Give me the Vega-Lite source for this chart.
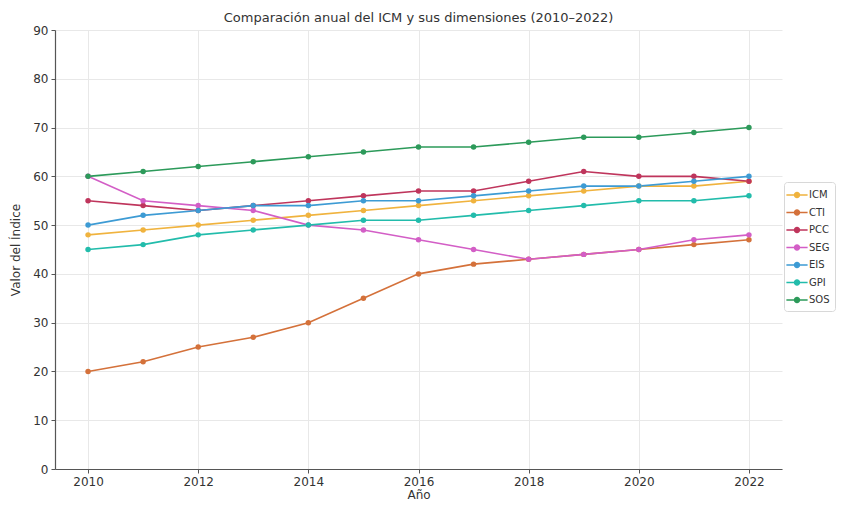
{
  "$schema": "https://vega.github.io/schema/vega-lite/v6.json",
  "width": 727,
  "height": 439,
  "autosize": {"type": "none"},
  "padding": {"left": 55, "top": 30, "right": 72, "bottom": 37},
  "background": "white",
  "title": {
    "text": "Comparación anual del ICM y sus dimensiones (2010–2022)",
    "font": "DejaVu Sans",
    "fontSize": 13,
    "fontWeight": "normal",
    "color": "#333333",
    "anchor": "middle",
    "offset": -1
  },
  "config": {
    "view": {"stroke": null},
    "axis": {
      "labelFont": "DejaVu Sans",
      "titleFont": "DejaVu Sans",
      "labelFontSize": 12,
      "titleFontSize": 12,
      "labelColor": "#333333",
      "titleColor": "#333333",
      "titleFontWeight": "normal",
      "gridColor": "#e8e8e8",
      "gridWidth": 1,
      "domainColor": "#555555",
      "domainWidth": 1.2,
      "tickColor": "#555555",
      "tickSize": 4
    }
  },
  "data": {
    "values": [
      {"year": 2010, "series": "ICM", "value": 48}, {"year": 2011, "series": "ICM", "value": 49}, {"year": 2012, "series": "ICM", "value": 50}, {"year": 2013, "series": "ICM", "value": 51}, {"year": 2014, "series": "ICM", "value": 52}, {"year": 2015, "series": "ICM", "value": 53}, {"year": 2016, "series": "ICM", "value": 54}, {"year": 2017, "series": "ICM", "value": 55}, {"year": 2018, "series": "ICM", "value": 56}, {"year": 2019, "series": "ICM", "value": 57}, {"year": 2020, "series": "ICM", "value": 58}, {"year": 2021, "series": "ICM", "value": 58}, {"year": 2022, "series": "ICM", "value": 59},
      {"year": 2010, "series": "CTI", "value": 20}, {"year": 2011, "series": "CTI", "value": 22}, {"year": 2012, "series": "CTI", "value": 25}, {"year": 2013, "series": "CTI", "value": 27}, {"year": 2014, "series": "CTI", "value": 30}, {"year": 2015, "series": "CTI", "value": 35}, {"year": 2016, "series": "CTI", "value": 40}, {"year": 2017, "series": "CTI", "value": 42}, {"year": 2018, "series": "CTI", "value": 43}, {"year": 2019, "series": "CTI", "value": 44}, {"year": 2020, "series": "CTI", "value": 45}, {"year": 2021, "series": "CTI", "value": 46}, {"year": 2022, "series": "CTI", "value": 47},
      {"year": 2010, "series": "PCC", "value": 55}, {"year": 2011, "series": "PCC", "value": 54}, {"year": 2012, "series": "PCC", "value": 53}, {"year": 2013, "series": "PCC", "value": 54}, {"year": 2014, "series": "PCC", "value": 55}, {"year": 2015, "series": "PCC", "value": 56}, {"year": 2016, "series": "PCC", "value": 57}, {"year": 2017, "series": "PCC", "value": 57}, {"year": 2018, "series": "PCC", "value": 59}, {"year": 2019, "series": "PCC", "value": 61}, {"year": 2020, "series": "PCC", "value": 60}, {"year": 2021, "series": "PCC", "value": 60}, {"year": 2022, "series": "PCC", "value": 59},
      {"year": 2010, "series": "SEG", "value": 60}, {"year": 2011, "series": "SEG", "value": 55}, {"year": 2012, "series": "SEG", "value": 54}, {"year": 2013, "series": "SEG", "value": 53}, {"year": 2014, "series": "SEG", "value": 50}, {"year": 2015, "series": "SEG", "value": 49}, {"year": 2016, "series": "SEG", "value": 47}, {"year": 2017, "series": "SEG", "value": 45}, {"year": 2018, "series": "SEG", "value": 43}, {"year": 2019, "series": "SEG", "value": 44}, {"year": 2020, "series": "SEG", "value": 45}, {"year": 2021, "series": "SEG", "value": 47}, {"year": 2022, "series": "SEG", "value": 48},
      {"year": 2010, "series": "EIS", "value": 50}, {"year": 2011, "series": "EIS", "value": 52}, {"year": 2012, "series": "EIS", "value": 53}, {"year": 2013, "series": "EIS", "value": 54}, {"year": 2014, "series": "EIS", "value": 54}, {"year": 2015, "series": "EIS", "value": 55}, {"year": 2016, "series": "EIS", "value": 55}, {"year": 2017, "series": "EIS", "value": 56}, {"year": 2018, "series": "EIS", "value": 57}, {"year": 2019, "series": "EIS", "value": 58}, {"year": 2020, "series": "EIS", "value": 58}, {"year": 2021, "series": "EIS", "value": 59}, {"year": 2022, "series": "EIS", "value": 60},
      {"year": 2010, "series": "GPI", "value": 45}, {"year": 2011, "series": "GPI", "value": 46}, {"year": 2012, "series": "GPI", "value": 48}, {"year": 2013, "series": "GPI", "value": 49}, {"year": 2014, "series": "GPI", "value": 50}, {"year": 2015, "series": "GPI", "value": 51}, {"year": 2016, "series": "GPI", "value": 51}, {"year": 2017, "series": "GPI", "value": 52}, {"year": 2018, "series": "GPI", "value": 53}, {"year": 2019, "series": "GPI", "value": 54}, {"year": 2020, "series": "GPI", "value": 55}, {"year": 2021, "series": "GPI", "value": 55}, {"year": 2022, "series": "GPI", "value": 56},
      {"year": 2010, "series": "SOS", "value": 60}, {"year": 2011, "series": "SOS", "value": 61}, {"year": 2012, "series": "SOS", "value": 62}, {"year": 2013, "series": "SOS", "value": 63}, {"year": 2014, "series": "SOS", "value": 64}, {"year": 2015, "series": "SOS", "value": 65}, {"year": 2016, "series": "SOS", "value": 66}, {"year": 2017, "series": "SOS", "value": 66}, {"year": 2018, "series": "SOS", "value": 67}, {"year": 2019, "series": "SOS", "value": 68}, {"year": 2020, "series": "SOS", "value": 68}, {"year": 2021, "series": "SOS", "value": 69}, {"year": 2022, "series": "SOS", "value": 70}
    ]
  },
  "mark": {"type": "line", "strokeWidth": 1.6, "point": {"filled": true, "size": 30}},
  "encoding": {
    "x": {
      "field": "year",
      "type": "quantitative",
      "title": "Año",
      "scale": {"domain": [2009.4, 2022.6], "nice": false, "zero": false},
      "axis": {"values": [2010, 2012, 2014, 2016, 2018, 2020, 2022], "format": "d", "titlePadding": 2, "labelPadding": 3}
    },
    "y": {
      "field": "value",
      "type": "quantitative",
      "title": "Valor del Índice",
      "scale": {"domain": [0, 90], "nice": false},
      "axis": {"values": [0, 10, 20, 30, 40, 50, 60, 70, 80, 90], "titlePadding": 10, "labelPadding": 3}
    },
    "color": {
      "field": "series",
      "type": "nominal",
      "sort": ["ICM", "CTI", "PCC", "SEG", "EIS", "GPI", "SOS"],
      "scale": {
        "domain": ["ICM", "CTI", "PCC", "SEG", "EIS", "GPI", "SOS"],
        "range": ["#f0b33e", "#d4713a", "#bf355c", "#d35ec6", "#3d9bd4", "#22bcab", "#2c9a5a"]
      },
      "legend": {
        "title": null,
        "orient": "none",
        "legendX": 729,
        "legendY": 152,
        "padding": 5,
        "strokeColor": "#d8d8d8",
        "cornerRadius": 3,
        "fillColor": "white",
        "labelFont": "DejaVu Sans",
        "labelFontSize": 10,
        "labelColor": "#333333",
        "labelOffset": 4,
        "rowPadding": 3.5,
        "symbolType": "M-1.5,0H1.5M-0.35,0A0.35,0.35 0 1,1 0.35,0A0.35,0.35 0 1,1 -0.35,0Z",
        "symbolSize": 200,
        "symbolStrokeWidth": 1.5,
        "symbolFillColor": null
      }
    },
    "order": {"field": "year"}
  }
}
